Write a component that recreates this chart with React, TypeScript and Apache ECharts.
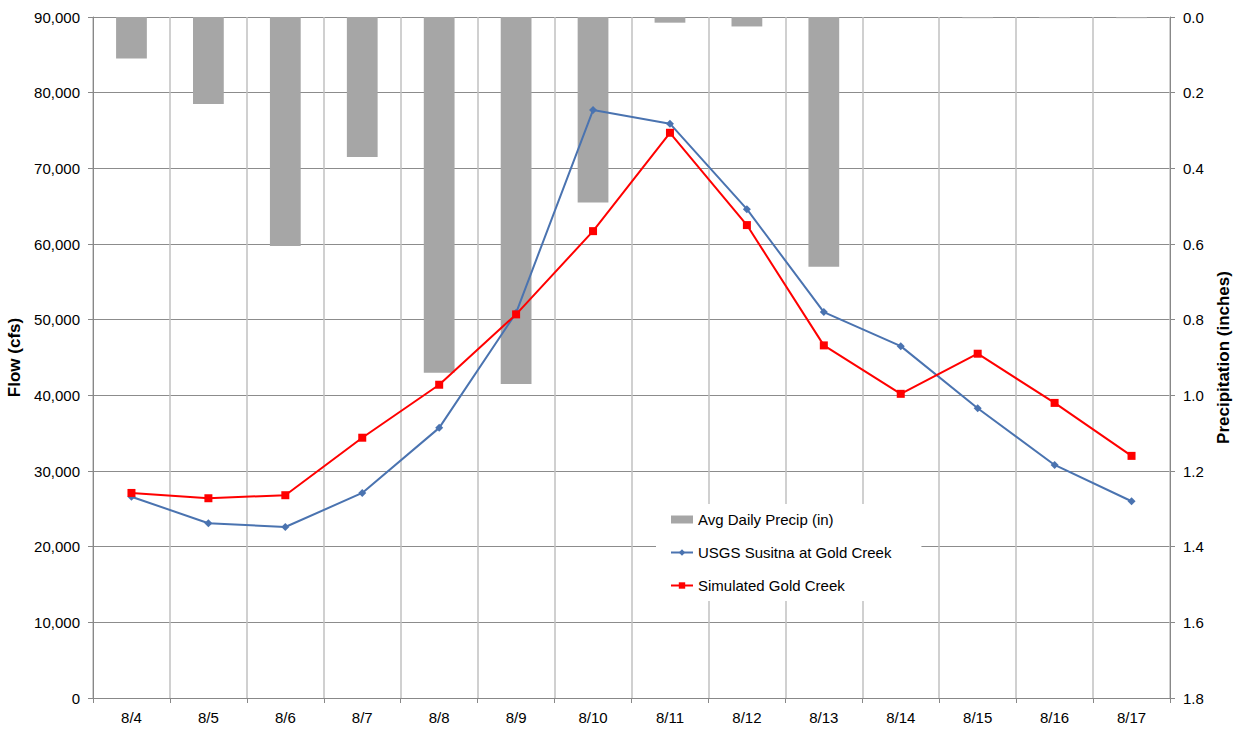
import React, { useEffect, useRef } from "react";
import * as echarts from "echarts";

const categories = ["8/4", "8/5", "8/6", "8/7", "8/8", "8/9", "8/10", "8/11", "8/12", "8/13", "8/14", "8/15", "8/16", "8/17"];
const precip = [0.11, 0.23, 0.605, 0.37, 0.94, 0.97, 0.49, 0.015, 0.025, 0.66, 0, 0.003, 0.003, 0.003];
const usgs = [26600, 23100, 22600, 27100, 35700, 50900, 77700, 75900, 64600, 51000, 46500, 38300, 30800, 26000];
const simulated = [27100, 26400, 26800, 34400, 41400, 50700, 61700, 74700, 62500, 46600, 40200, 45500, 39000, 32000];

const FONT = "'Liberation Sans', Arial, sans-serif";

export default function App() {
  const ref = useRef<HTMLDivElement>(null);
  useEffect(() => {
    if (!ref.current) return;
    const chart = echarts.init(ref.current, null, { renderer: "svg" });
    chart.setOption({
      animation: false,
      textStyle: { fontFamily: FONT },
      grid: { left: 93, right: 67, top: 17, bottom: 31, containLabel: false, outerBoundsMode: "none" },
      legend: {
        orient: "vertical",
        left: 656,
        top: 504,
        backgroundColor: "#ffffff",
        padding: [8, 30, 8, 14],
        itemGap: 18,
        itemWidth: 22,
        itemHeight: 8,
        textStyle: { fontFamily: FONT, fontSize: 15, color: "#000" },
        data: [
          { name: "Avg Daily Precip (in)", icon: "rect" },
          { name: "USGS Susitna at Gold Creek" },
          { name: "Simulated Gold Creek" },
        ],
      },
      xAxis: {
        type: "category",
        data: categories,
        boundaryGap: true,
        axisLine: { lineStyle: { color: "#888", width: 1 } },
        axisTick: { show: true, length: 5, alignWithLabel: false, lineStyle: { color: "#888" } },
        axisLabel: { fontFamily: FONT, fontSize: 15, color: "#000", margin: 12 },
        splitLine: { show: true, lineStyle: { color: "#c0c0c0", width: 1.5 } },
      },
      yAxis: [
        {
          type: "value",
          min: 0,
          max: 90000,
          interval: 10000,
          name: "Flow (cfs)",
          nameLocation: "middle",
          nameGap: 61,
          nameRotate: 90,
          nameTextStyle: { fontFamily: FONT, fontSize: 17, fontWeight: "bold", color: "#000" },
          axisLine: { show: true, lineStyle: { color: "#888" } },
          axisTick: { show: true, length: 5, lineStyle: { color: "#888" } },
          axisLabel: {
            fontFamily: FONT,
            fontSize: 15,
            color: "#000",
            margin: 13,
            formatter: (v: number) => v.toLocaleString("en-US"),
          },
          splitLine: { show: true, lineStyle: { color: "#8c8c8c", width: 1 } },
        },
        {
          type: "value",
          min: 0,
          max: 1.8,
          interval: 0.2,
          inverse: true,
          position: "right",
          name: "Precipitation (inches)",
          nameLocation: "middle",
          nameGap: 34,
          nameRotate: 90,
          nameTextStyle: { fontFamily: FONT, fontSize: 17, fontWeight: "bold", color: "#000" },
          axisLine: { show: true, lineStyle: { color: "#888" } },
          axisTick: { show: true, length: 5, lineStyle: { color: "#888" } },
          axisLabel: {
            fontFamily: FONT,
            fontSize: 15,
            color: "#000",
            margin: 13,
            formatter: (v: number) => v.toFixed(1),
          },
          splitLine: { show: false },
        },
      ],
      series: [
        {
          name: "Avg Daily Precip (in)",
          type: "bar",
          yAxisIndex: 1,
          data: precip,
          barWidth: "40%",
          itemStyle: { color: "#a6a6a6" },
          z: 1,
        },
        {
          name: "USGS Susitna at Gold Creek",
          type: "line",
          yAxisIndex: 0,
          data: usgs,
          symbol: "diamond",
          symbolSize: 8,
          lineStyle: { color: "#4a73b0", width: 2 },
          itemStyle: { color: "#4a73b0" },
          z: 3,
        },
        {
          name: "Simulated Gold Creek",
          type: "line",
          yAxisIndex: 0,
          data: simulated,
          symbol: "rect",
          symbolSize: 8,
          lineStyle: { color: "#ff0000", width: 2 },
          itemStyle: { color: "#ff0000" },
          z: 4,
        },
      ],
    });
    return () => chart.dispose();
  }, []);
  return <div ref={ref} style={{ width: 1237, height: 729, position: "absolute", left: 0, top: 0 }} />;
}
